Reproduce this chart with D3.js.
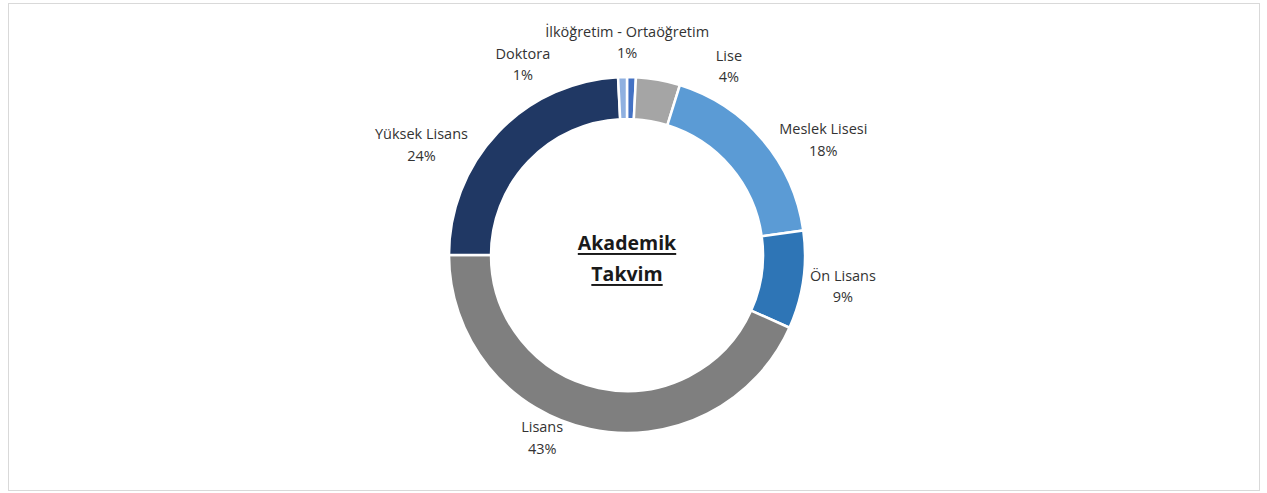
<!DOCTYPE html>
<html>
<head>
<meta charset="utf-8">
<script src="https://cdn.jsdelivr.net/npm/d3@7"></script>
<style>
  html, body { margin: 0; padding: 0; background: #fff; }
  svg { display: block; }
</style>
</head>
<body>
<svg class="chart" width="1267" height="493"></svg>
<script>
// egitim durumu dagilimi (yuzde)
const categories = [
  "İlköğretim - Ortaöğretim",
  "Lise",
  "Meslek Lisesi",
  "Ön Lisans",
  "Lisans",
  "Yüksek Lisans",
  "Doktora",
];
const values = [0.8, 4.0, 18.0, 8.9, 43.3, 24.2, 0.8];
const colors = ["#4472c4", "#a5a5a5", "#5b9bd5", "#2e75b6", "#7f7f7f", "#203864", "#8fb0e0"];
const titleLines = ["Akademik", "Takvim"];

const svg = d3.select(".chart");

// outer frame
svg
  .append("rect")
  .attr("x", 8.5)
  .attr("y", 3.5)
  .attr("width", 1251)
  .attr("height", 487)
  .attr("fill", "white")
  .attr("stroke", "#d9d9d9")
  .attr("stroke-width", 1);

const cx = 627;
const cy = 255;
const outerR = 178;
const innerR = 136;

const data = categories.map((c, i) => ({ name: c, value: values[i], color: colors[i] }));
const total = d3.sum(values);

const pie = d3.pie().sort(null).value((d) => d.value);
const arcs = pie(data);

const arc = d3.arc().innerRadius(innerR).outerRadius(outerR);

const g = svg.append("g").attr("transform", `translate(${cx}, ${cy})`);

g.selectAll("path")
  .data(arcs)
  .enter()
  .append("path")
  .attr("d", arc)
  .attr("fill", (d) => d.data.color)
  .attr("stroke", "white")
  .attr("stroke-width", 2.5)
  .attr("stroke-linejoin", "miter");

// label placement: mid angle at labelR, then moved like excel does to avoid overlaps
const labelR = 205;
const nudge = {
  "İlköğretim - Ortaöğretim": [-5, -8],
  "Lise": [66, 13],
  "Meslek Lisesi": [40, 17],
  "Ön Lisans": [13, 2],
  "Lisans": [-42, -18],
  "Yüksek Lisans": [-57, 31],
  "Doktora": [-99, 14],
};
const pct = d3.format(".0%");
const lineGap = 21.5;

const labels = g
  .selectAll("g.label")
  .data(arcs)
  .enter()
  .append("g")
  .attr("class", "label")
  .attr("transform", (d) => {
    const mid = (d.startAngle + d.endAngle) / 2;
    const n = nudge[d.data.name] || [0, 0];
    const x = labelR * Math.sin(mid) + n[0];
    const y = -labelR * Math.cos(mid) + n[1];
    return `translate(${x}, ${y})`;
  });

labels
  .selectAll("text")
  .data((d) => [d.data.name, pct(d.data.value / total)])
  .enter()
  .append("text")
  .attr("y", (d, i) => (i - 0.5) * lineGap)
  .attr("text-anchor", "middle")
  .attr("dominant-baseline", "central")
  .attr("font-family", "'Open Sans', sans-serif")
  .attr("font-size", 14.5)
  .attr("fill", "#333")
  .text((d) => d);

// title in the hole
g.selectAll("text.title")
  .data(titleLines)
  .enter()
  .append("text")
  .attr("class", "title")
  .attr("y", (d, i) => (i - 0.5) * 31 + 3)
  .attr("text-anchor", "middle")
  .attr("dominant-baseline", "central")
  .attr("font-family", "'Open Sans', sans-serif")
  .attr("font-weight", "bold")
  .attr("font-size", 19.5)
  .attr("fill", "#1a1a1a")
  .attr("text-decoration", "underline")
  .text((d) => d);
</script>
</body>
</html>
